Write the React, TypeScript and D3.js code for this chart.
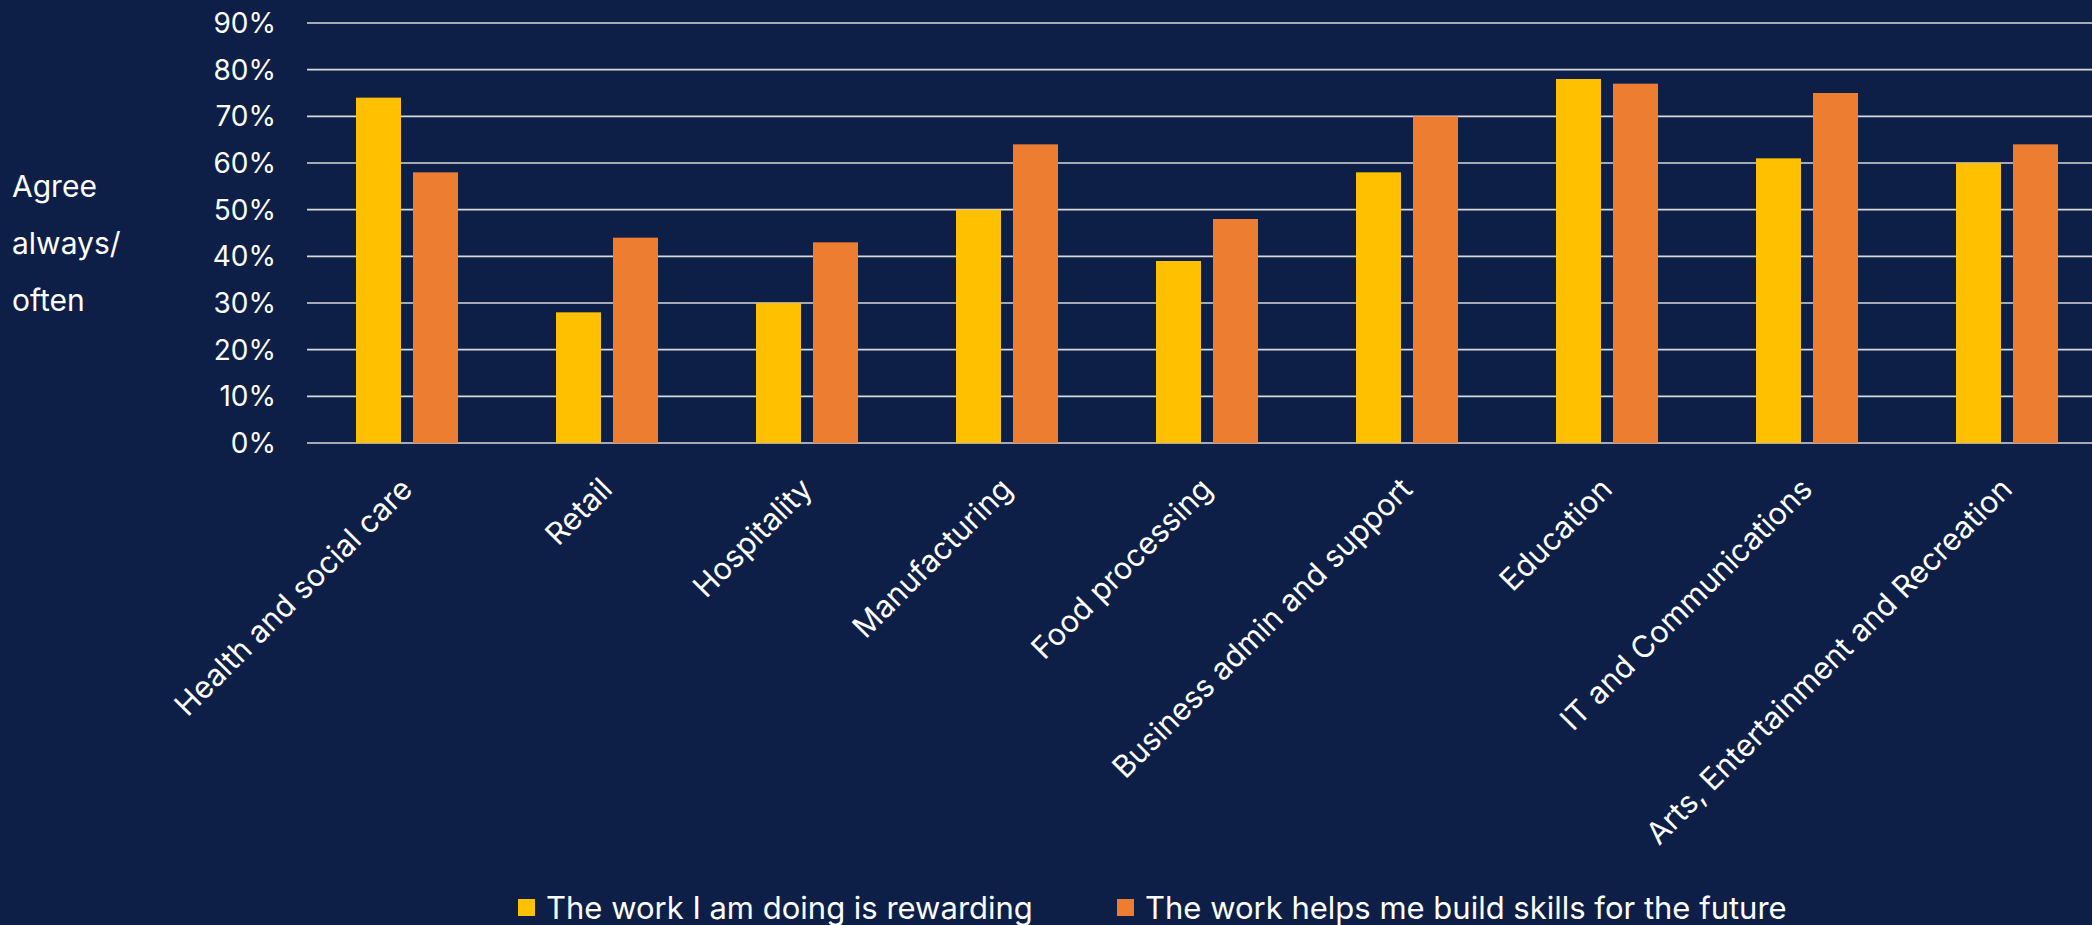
import React from "react";
import * as d3 from "d3";

const categories = [
  "Health and social care",
  "Retail",
  "Hospitality",
  "Manufacturing",
  "Food processing",
  "Business admin and support",
  "Education",
  "IT and Communications",
  "Arts, Entertainment and Recreation",
];
const rewarding = [74, 28, 30, 50, 39, 58, 78, 61, 60];
const skills = [58, 44, 43, 64, 48, 70, 77, 75, 64];
const seriesNames = [
  "The work I am doing is rewarding",
  "The work helps me build skills for the future",
];
const yTicks = [0, 10, 20, 30, 40, 50, 60, 70, 80, 90];
const yTitleLines = ["Agree", "always/", "often"];

const W = 2092;
const H = 925;
const BG = "#0E1F47";
const YELLOW = "#FFC000";
const ORANGE = "#ED7D31";
const GRID = "#D9D9D9";
const FONT = "Inter, 'Noto Sans', sans-serif";

export default function App() {
  const x = d3.scaleBand<string>().domain(categories).range([307, 2107]).padding(0);
  const y = d3.scaleLinear().domain([0, 90]).range([443, 23]);
  const barW = 45;
  const gap = 12;
  const colors = [YELLOW, ORANGE];
  const series = [rewarding, skills];

  return (
    <svg
      width={W}
      height={H}
      style={{ position: "absolute", left: 0, top: 0, background: BG }}
      fontFamily={FONT}
    >
      <rect x={0} y={0} width={W} height={H} fill={BG} />
      {yTicks.map((t) => (
        <g key={t}>
          <line x1={307} x2={W} y1={y(t)} y2={y(t)} stroke={GRID} strokeWidth={1.7} />
          <text
            x={276}
            y={y(t)}
            dy="0.36em"
            textAnchor="end"
            fill="#fff"
            fontSize={28}
          >
            {t}%
          </text>
        </g>
      ))}
      {yTitleLines.map((l, i) => (
        <text key={l} x={12} y={197 + i * 57} fill="#fff" fontSize={30}>
          {l}
        </text>
      ))}
      {categories.map((c, i) => {
        const cx = (x(c) as number) + x.bandwidth() / 2;
        return (
          <g key={c}>
            {series.map((s, k) => {
              const bx = k === 0 ? cx - gap / 2 - barW : cx + gap / 2;
              return (
                <rect
                  key={k}
                  x={bx}
                  y={y(s[i])}
                  width={barW}
                  height={y(0) - y(s[i])}
                  fill={colors[k]}
                />
              );
            })}
            <text
              transform={`translate(${cx - 8},${476}) rotate(-45)`}
              textAnchor="end"
              dy="0.7em"
              fill="#fff"
              fontSize={30.5}
            >
              {c}
            </text>
          </g>
        );
      })}
      {seriesNames.map((n, k) => {
        const lx = k === 0 ? 518 : 1117;
        return (
          <g key={n}>
            <rect x={lx} y={899} width={17} height={17} fill={colors[k]} />
            <text x={lx + 28} y={908} dy="0.36em" fill="#fff" fontSize={31}>
              {n}
            </text>
          </g>
        );
      })}
    </svg>
  );
}
